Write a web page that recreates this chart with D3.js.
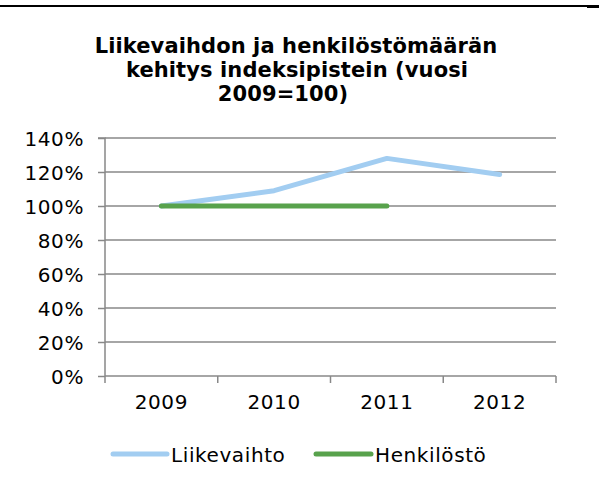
<!DOCTYPE html>
<html>
<head>
<meta charset="utf-8">
<script src="https://cdn.jsdelivr.net/npm/d3@7"></script>
<style>
  html, body { margin: 0; padding: 0; background: #fff; }
  svg { display: block; }
  text { font-family: "DejaVu Sans", Verdana, sans-serif; fill: #000; }
</style>
</head>
<body>
<svg id="chart" width="599" height="485"></svg>
<script>
const categories = ["2009", "2010", "2011", "2012"];
const liikevaihto = [1.00, 1.09, 1.28, 1.185];
const henkilosto = [1.00, 1.00, 1.00, null];
const yTicks = [0, 0.2, 0.4, 0.6, 0.8, 1.0, 1.2, 1.4];
const titleLines = ["Liikevaihdon ja henkilöstömäärän", "kehitys indeksipistein (vuosi", "2009=100)"];
const seriesNames = ["Liikevaihto", "Henkilöstö"];
const seriesColors = ["#a2cdf1", "#58a24c"];

const svg = d3.select("#chart");
const plotLeft = 105, plotRight = 556, plotTop = 138, plotBottom = 376;

const x = d3.scaleBand().domain(categories).range([plotLeft, plotRight]).padding(0);
const y = d3.scaleLinear().domain([0, 1.4]).range([plotBottom, plotTop]);

// top border line
svg.append("line").attr("x1", 0).attr("x2", 588).attr("y1", 6).attr("y2", 6)
  .attr("stroke", "#000").attr("stroke-width", 2);
svg.append("rect").attr("x", 587).attr("y", 5).attr("width", 12).attr("height", 3).attr("fill", "#000");

// title
const title = svg.append("g");
const titleX = [296, 297, 283];
titleLines.forEach((t, i) => {
  title.append("text")
    .attr("x", titleX[i]).attr("y", 53 + i * 24)
    .attr("text-anchor", "middle")
    .attr("font-size", 21).attr("font-weight", "bold")
    .attr("letter-spacing", 0.1)
    .text(t);
});

const gridColor = "#888888";
const labelSize = 20, labelSpacing = 0.6;

// gridlines
svg.append("g").selectAll("line").data(yTicks.filter(d => d > 0)).join("line")
  .attr("x1", plotLeft).attr("x2", plotRight)
  .attr("y1", d => y(d)).attr("y2", d => y(d))
  .attr("stroke", gridColor).attr("stroke-width", 1.5);

// y axis
const yAxis = d3.axisLeft(y).tickValues(yTicks).tickFormat(d3.format(".0%")).tickSize(7).tickPadding(14);
const gy = svg.append("g").attr("transform", `translate(${plotLeft},0)`).call(yAxis);
gy.select(".domain").attr("stroke", gridColor).attr("stroke-width", 1.5).attr("d", `M-7,${plotTop}H0V${plotBottom}`);
gy.selectAll(".tick line").attr("stroke", gridColor).attr("stroke-width", 1.5);
gy.selectAll(".tick text").attr("font-size", labelSize).attr("letter-spacing", labelSpacing)
  .attr("font-family", "DejaVu Sans, Verdana, sans-serif").attr("fill", "#000").attr("dy", "0.36em");

// x axis
const xEdges = categories.map(c => x(c)).concat([plotRight]);
const gx = svg.append("g");
gx.append("line").attr("x1", plotLeft).attr("x2", plotRight).attr("y1", plotBottom).attr("y2", plotBottom)
  .attr("stroke", gridColor).attr("stroke-width", 1.5);
gx.selectAll("line.tk").data(xEdges).join("line").attr("class", "tk")
  .attr("x1", d => d).attr("x2", d => d).attr("y1", plotBottom).attr("y2", plotBottom + 7)
  .attr("stroke", gridColor).attr("stroke-width", 1.5);
gx.selectAll("text").data(categories).join("text")
  .attr("x", d => x(d) + x.bandwidth() / 2).attr("y", 409)
  .attr("text-anchor", "middle").attr("font-size", labelSize).attr("letter-spacing", labelSpacing)
  .text(d => d);

// lines
const line = d3.line()
  .defined(d => d.v !== null)
  .x(d => x(d.c) + x.bandwidth() / 2)
  .y(d => y(d.v));

[liikevaihto, henkilosto].forEach((vals, i) => {
  svg.append("path")
    .datum(categories.map((c, j) => ({ c, v: vals[j] })))
    .attr("d", line)
    .attr("fill", "none")
    .attr("stroke", seriesColors[i])
    .attr("stroke-width", 5)
    .attr("stroke-linejoin", "round")
    .attr("stroke-linecap", "round");
});

// legend
const legendItems = [
  { name: seriesNames[0], color: seriesColors[0], x1: 113, x2: 167, tx: 171 },
  { name: seriesNames[1], color: seriesColors[1], x1: 316, x2: 371, tx: 375 }
];
const lg = svg.append("g");
legendItems.forEach(it => {
  lg.append("line").attr("x1", it.x1).attr("x2", it.x2).attr("y1", 454).attr("y2", 454)
    .attr("stroke", it.color).attr("stroke-width", 5).attr("stroke-linecap", "round");
  lg.append("text").attr("x", it.tx).attr("y", 462).attr("font-size", labelSize).attr("letter-spacing", labelSpacing)
    .text(it.name);
});
</script>
</body>
</html>
